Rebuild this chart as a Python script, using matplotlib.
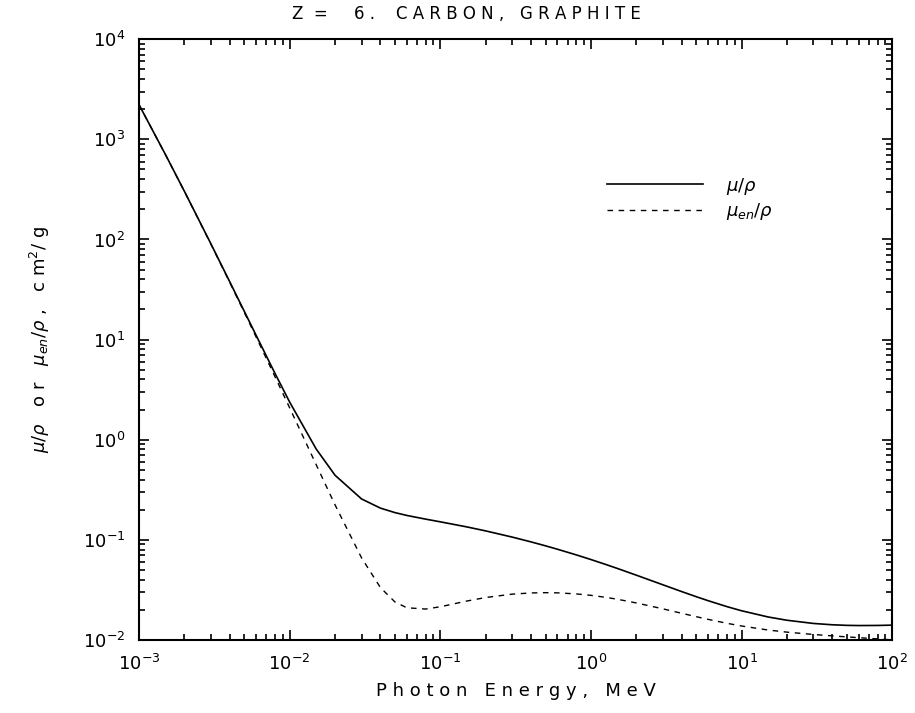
import matplotlib
matplotlib.use("Agg")
import matplotlib.pyplot as plt
from matplotlib.ticker import LogLocator, NullFormatter

# NIST table, carbon (graphite), Z = 6
energy = [1.0e-3, 1.5e-3, 2.0e-3, 3.0e-3, 4.0e-3, 5.0e-3, 6.0e-3, 8.0e-3,
          1.0e-2, 1.5e-2, 2.0e-2, 3.0e-2, 4.0e-2, 5.0e-2, 6.0e-2, 8.0e-2,
          1.0e-1, 1.5e-1, 2.0e-1, 3.0e-1, 4.0e-1, 5.0e-1, 6.0e-1, 8.0e-1,
          1.0, 1.25, 1.5, 2.0, 3.0, 4.0, 5.0, 6.0, 8.0,
          10.0, 15.0, 20.0, 30.0, 40.0, 50.0, 60.0, 80.0, 100.0]
mu_rho = [2211, 700.2, 302.6, 90.33, 37.78, 19.12, 10.95, 4.576,
          2.373, 0.8071, 0.4420, 0.2562, 0.2076, 0.1871, 0.1753, 0.1610,
          0.1514, 0.1347, 0.1229, 0.1066, 0.09546, 0.08715, 0.08058, 0.07076,
          0.06361, 0.05690, 0.05179, 0.04442, 0.03562, 0.03047, 0.02708, 0.02469, 0.02154,
          0.01959, 0.01698, 0.01575, 0.01463, 0.01419, 0.01400, 0.01394, 0.01397, 0.01407]
muen_rho = [2209, 699.0, 301.6, 89.63, 37.23, 18.66, 10.54, 4.242,
            2.078, 0.5627, 0.2238, 0.06614, 0.03343, 0.02397, 0.02098, 0.02037,
            0.02147, 0.02449, 0.02655, 0.02870, 0.02950, 0.02969, 0.02956, 0.02885,
            0.02792, 0.02669, 0.02551, 0.02345, 0.02048, 0.01849, 0.01710, 0.01607, 0.01468,
            0.01380, 0.01258, 0.01198, 0.01135, 0.01099, 0.01074, 0.01055, 0.01025, 0.01003]

fig = plt.figure(figsize=(9.15, 7.13), dpi=100)
ax = fig.add_axes([0.152, 0.1024, 0.823, 0.8426])

ax.loglog(energy, mu_rho, color="black", lw=1.2, label=r"$\mu/\rho$")
ax.loglog(energy, muen_rho, color="black", lw=1.0, ls=(0, (4, 4)), label=r"$\mu_{en}/\rho$")

ax.set_xlim(1e-3, 1e2)
ax.set_ylim(1e-2, 1e4)

for a in (ax.xaxis, ax.yaxis):
    a.set_major_locator(LogLocator(base=10, numticks=20))
    a.set_minor_locator(LogLocator(base=10, subs=range(2, 10), numticks=20))
    a.set_minor_formatter(NullFormatter())

ax.tick_params(which="both", direction="in", top=True, right=True, width=1.2)
ax.tick_params(which="major", length=7, labelsize=13, pad=10)
ax.tick_params(which="minor", length=4)
for s in ax.spines.values():
    s.set_linewidth(1.5)

ax.set_xlabel("P h o t o n   E n e r g y ,   M e V", fontsize=13, labelpad=6)
ax.set_ylabel(r"$\mu/\rho$   o r   $\mu_{en}/\rho$ ,   c m$^2$/ g", fontsize=13, labelpad=22)
fig.text(0.51, 0.98, "Z  =     6 .    C A R B O N ,   G R A P H I T E",
         fontsize=12, ha="center", va="center")

ax.legend(loc="upper left", bbox_to_anchor=(0.6, 0.8), frameon=False,
          handlelength=5.3, fontsize=13, labelspacing=0.25, handletextpad=1.3)

fig.savefig("out.png", dpi=100)
